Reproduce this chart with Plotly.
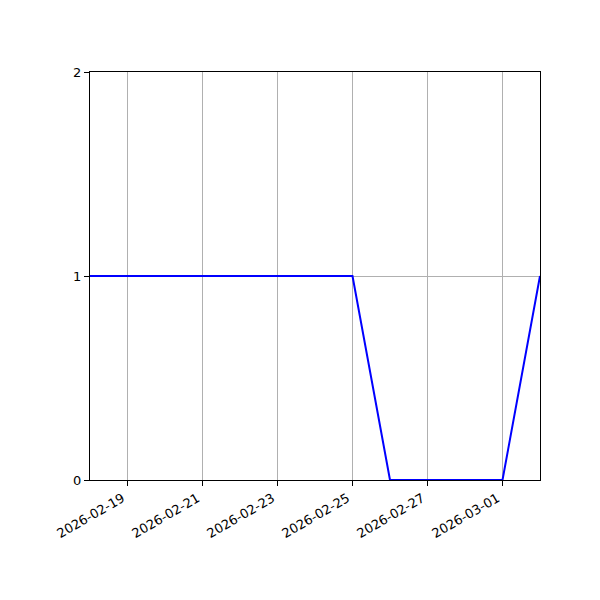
import plotly.graph_objects as go

dates = ["2026-02-18", "2026-02-19", "2026-02-20", "2026-02-21", "2026-02-22",
         "2026-02-23", "2026-02-24", "2026-02-25", "2026-02-26", "2026-02-27",
         "2026-02-28", "2026-03-01", "2026-03-02"]
values = [1, 1, 1, 1, 1, 1, 1, 1, 0, 0, 0, 0, 1]
tick_dates = ["2026-02-19", "2026-02-21", "2026-02-23", "2026-02-25",
              "2026-02-27", "2026-03-01"]

fig = go.Figure()
fig.add_scatter(x=dates, y=values, mode="lines",
                line=dict(color="#0000ff", width=2))

axis_common = dict(showline=True, linecolor="black", linewidth=1, mirror=True,
                   ticks="outside", ticklen=5, tickcolor="black",
                   showgrid=True, gridcolor="#b0b0b0", gridwidth=1,
                   zeroline=False, tickfont=dict(family="DejaVu Sans", size=13, color="black"))

# page body has an 8px margin, so shift the plot area back by that much
fig.update_layout(
    width=600, height=600,
    margin=dict(l=82, r=68, t=64, b=128),
    paper_bgcolor="white", plot_bgcolor="white",
    showlegend=False,
    xaxis=dict(range=["2026-02-18", "2026-03-02"], tickvals=tick_dates,
               ticktext=tick_dates, tickangle=-30, ticklabelshift=-5,
               **axis_common),
    yaxis=dict(range=[0, 2], tickvals=[0, 1, 2], **axis_common),
)

fig.write_html("out.html")
